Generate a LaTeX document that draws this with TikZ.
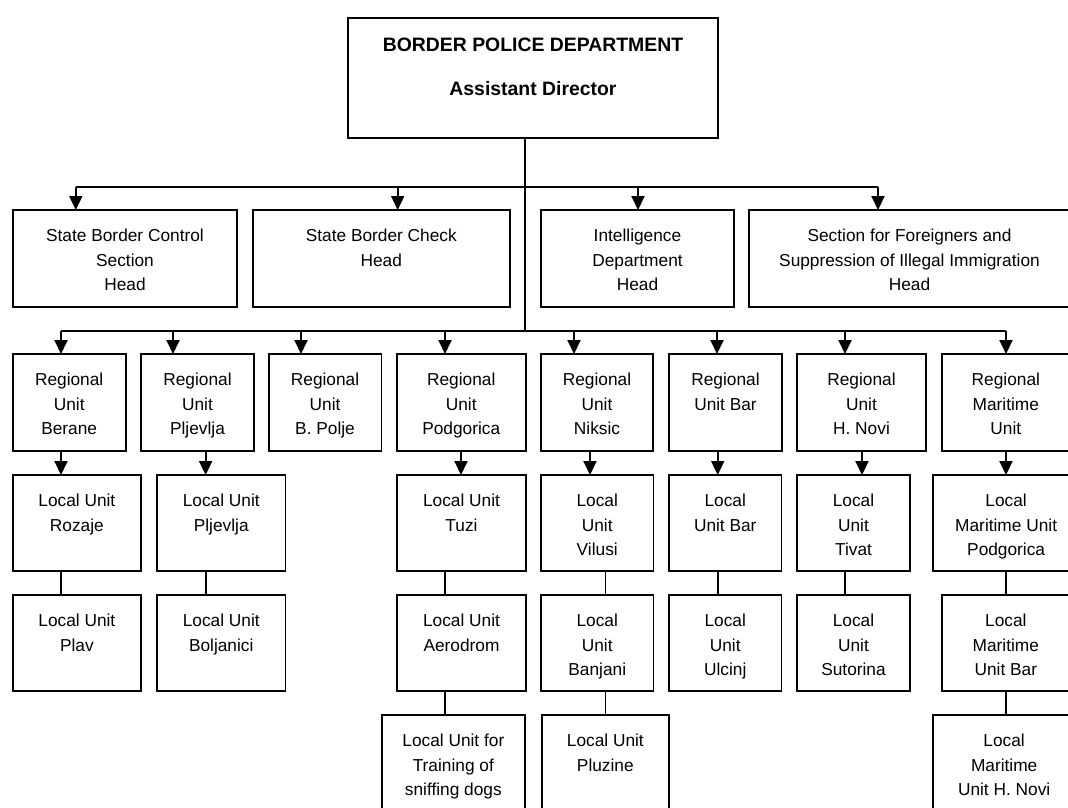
\documentclass[tikz,border=0pt]{standalone}
\usepackage{fontspec}
\setmainfont{Liberation Sans}
\usetikzlibrary{arrows.meta,calc}
\tikzset{
  box/.style={draw, line width=1.9pt, rectangle, inner sep=0pt, outer sep=0pt},
  txt/.style={align=center, inner sep=0pt, font=\fontsize{17.3}{24.8}\selectfont},
  ttl/.style={inner sep=0pt, font=\fontsize{19.4}{24}\selectfont\bfseries},
  con/.style={line width=1.9pt},
  arr/.style={line width=1.9pt, -{Triangle[width=13pt,length=14pt]}}
}
\newcommand\orgbox[6]{%
  \node[box, minimum width={#4-#2}, minimum height={#5-#3}, anchor=north west] (#1) at (#2,#3) {};
  \node[txt, anchor=north] (#1t) at ($(#1.north)+(0,18)$) {\rule{0pt}{13pt}#6};
}
\begin{document}
\begin{tikzpicture}[x=1pt,y=-1pt]
\useasboundingbox (0,0) rectangle (1068,808);
% top
\node[box, minimum width=369.4, minimum height=120, anchor=north west] (top) at (348.3,18.3) {};
\node[ttl, anchor=base] (topt1) at ($(top.north)+(0,33)$) {BORDER POLICE DEPARTMENT};
\node[ttl, anchor=base] (topt2) at ($(top.north)+(0,77)$) {Assistant Director};
% row 2
\orgbox{s1}{13}{210}{237}{306.7}{State Border Control\\Section\\Head}
\orgbox{s2}{253}{210}{509.6}{306.7}{State Border Check\\Head}
\orgbox{s3}{541}{210}{734}{306.7}{Intelligence\\Department\\Head}
\orgbox{s4}{749}{210}{1070}{306.7}{Section for Foreigners and\\Suppression of Illegal Immigration\\Head}
% regional
\orgbox{r1}{12.7}{354}{125.7}{450.7}{Regional\\Unit\\Berane}
\orgbox{r2}{141}{354}{254}{450.7}{Regional\\Unit\\Pljevlja}
\orgbox{r3}{268.6}{354}{381.5}{450.7}{Regional\\Unit\\B. Polje}
\orgbox{r4}{396.7}{354}{525.8}{450.7}{Regional\\Unit\\Podgorica}
\orgbox{r5}{541}{354}{653}{450.7}{Regional\\Unit\\Niksic}
\orgbox{r6}{669}{354}{782}{450.7}{Regional\\Unit Bar}
\orgbox{r7}{797}{354}{926}{450.7}{Regional\\Unit\\H. Novi}
\orgbox{r8}{941.7}{354}{1070}{450.7}{Regional\\Maritime\\Unit}
% local row 1
\orgbox{l1}{12.7}{475}{141}{571}{Local Unit\\Rozaje}
\orgbox{l2}{157}{475}{285.5}{571}{Local Unit\\Pljevlja}
\orgbox{l4}{397}{475}{526}{571}{Local Unit\\Tuzi}
\orgbox{l5}{541}{475}{653.5}{571}{Local\\Unit\\Vilusi}
\orgbox{l6}{669}{475}{781.5}{571}{Local\\Unit Bar}
\orgbox{l7}{797}{475}{910}{571}{Local\\Unit\\Tivat}
\orgbox{l8}{933.3}{475}{1079}{571}{Local\\Maritime Unit\\Podgorica}
% local row 2
\orgbox{m1}{12.7}{595}{141}{691}{Local Unit\\Plav}
\orgbox{m2}{157}{595}{285.5}{691}{Local Unit\\Boljanici}
\orgbox{m4}{397}{595}{526}{691}{Local Unit\\Aerodrom}
\orgbox{m5}{541}{595}{653.5}{691}{Local\\Unit\\Banjani}
\orgbox{m6}{669}{595}{781.5}{691}{Local\\Unit\\Ulcinj}
\orgbox{m7}{797}{595}{910}{691}{Local\\Unit\\Sutorina}
\orgbox{m8}{941.7}{595}{1070}{691}{Local\\Maritime\\Unit Bar}
% local row 3
\orgbox{n4}{381.7}{715}{525}{825}{Local Unit for\\Training of\\sniffing dogs}
\orgbox{n5}{541.7}{715}{669}{825}{Local Unit\\Pluzine}
\orgbox{n8}{933.3}{715}{1075}{825}{Local\\Maritime\\Unit H. Novi}
% bus 1
\coordinate (a1) at (75.8,186.7);
\coordinate (a2) at (397.7,186.7);
\coordinate (a3) at (638,186.7);
\coordinate (a4) at (878,186.7);
\coordinate (j) at (525,331);
\draw[con] (a1) -- (a4);
\draw[con] (top.south -| j) -- (j);
\draw[arr] (a1) -- (a1 |- s1.north);
\draw[arr] (a2) -- (a2 |- s2.north);
\draw[arr] (a3) -- (a3 |- s3.north);
\draw[arr] (a4) -- (a4 |- s4.north);
% bus 2
\coordinate (b1) at (61,331);
\coordinate (b2) at (173,331);
\coordinate (b3) at (301,331);
\coordinate (b4) at (445,331);
\coordinate (b5) at (574,331);
\coordinate (b6) at (717,331);
\coordinate (b7) at (845,331);
\coordinate (b8) at (1006,331);
\draw[con] (b1) -- (b8);
\foreach \i in {1,...,8} {\draw[arr] (b\i) -- (b\i |- r\i.north);}
% regional to local
\coordinate (c1) at (61,0);
\coordinate (c2) at (205.6,0);
\coordinate (c4) at (461,0);
\coordinate (c5) at (590,0);
\coordinate (c6) at (717.7,0);
\coordinate (c7) at (862,0);
\coordinate (c8) at (1006,0);
\foreach \i in {1,2,4,5,6,7,8} {\draw[arr] (r\i.south -| c\i) -- (l\i.north -| c\i);}
% local chains
\coordinate (d1) at (61,0);
\coordinate (d2) at (205.6,0);
\coordinate (d4) at (445,0);
\coordinate (d5) at (605.5,0);
\coordinate (d6) at (717.7,0);
\coordinate (d7) at (845,0);
\coordinate (d8) at (1006,0);
\foreach \i in {1,2,4,5,6,7,8} {\draw[con] (l\i.south -| d\i) -- (m\i.north -| d\i);}
\foreach \i in {4,5,8} {\draw[con] (m\i.south -| d\i) -- (n\i.north -| d\i);}
\end{tikzpicture}
\end{document}
